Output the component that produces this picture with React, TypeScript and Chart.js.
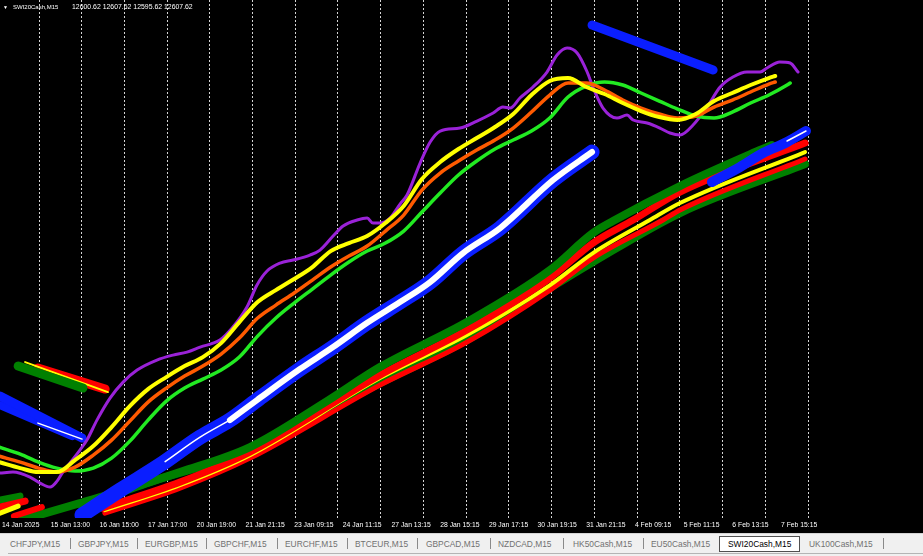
import React, { useEffect, useRef } from "react";
import { Chart, registerables } from "chart.js";

Chart.register(...registerables);

// ---- axes ----
const X_MIN = -0.66;
const X_MAX = 302.66;
const Y_MIN = 11700;
const Y_MAX = 12736;

const tickSlots = [0, 16, 32, 48, 64, 80, 96, 112, 128, 144, 160, 176, 192, 208, 224, 240, 256];
const tickLabels = [
  "14 Jan 2025", "15 Jan 13:00", "16 Jan 15:00", "17 Jan 17:00", "20 Jan 19:00", "21 Jan 21:15",
  "23 Jan 09:15", "24 Jan 11:15", "27 Jan 13:15", "28 Jan 15:15", "29 Jan 17:15", "30 Jan 19:15",
  "31 Jan 21:15", "4 Feb 09:15", "5 Feb 11:15", "6 Feb 13:15", "7 Feb 15:15",
];
const gridSlots = [12.2, 26.2, 40.2, 54.3, 68.3, 82.4, 96.4, 110.4, 124.5, 138.5, 152.6, 166.6, 180.6, 194.7, 208.7, 222.8, 236.8, 250.8, 264.9];

// ---- moving-average ribbon ----
const ribbonSlots = [-1, 6, 12, 18, 24, 30, 36, 42, 48, 54, 60, 66, 72, 78, 84, 90, 96, 102, 108, 114, 120, 126, 132, 138, 144, 150, 156, 162, 168, 174, 180, 186, 192, 198, 204, 210, 216, 222, 228, 234, 240, 246, 252];
const yellowMA = [11812, 11800, 11792, 11792, 11816, 11844, 11882, 11924, 11958, 11982, 12004, 12022, 12050, 12092, 12132, 12156, 12178, 12202, 12234, 12250, 12264, 12290, 12324, 12378, 12412, 12438, 12460, 12482, 12508, 12546, 12574, 12580, 12562, 12548, 12530, 12514, 12502, 12496, 12508, 12534, 12550, 12566, 12580];
const yellowTailSlots = [254.1];
const yellowTail = [12584];
const orangeMA = [11824, 11812, 11800, 11792, 11802, 11826, 11856, 11894, 11932, 11960, 11984, 12004, 12028, 12060, 12100, 12126, 12150, 12176, 12202, 12224, 12244, 12274, 12306, 12356, 12390, 12414, 12436, 12456, 12480, 12512, 12546, 12570, 12570, 12556, 12536, 12520, 12508, 12500, 12504, 12522, 12536, 12552, 12568];
const orangeTailSlots = [254.1];
const orangeTail = [12572];
const greenMA = [11842, 11828, 11812, 11800, 11794, 11800, 11820, 11854, 11896, 11934, 11960, 11978, 11996, 12022, 12064, 12100, 12130, 12158, 12186, 12212, 12234, 12250, 12274, 12312, 12350, 12386, 12414, 12438, 12456, 12474, 12500, 12542, 12564, 12572, 12566, 12550, 12534, 12518, 12504, 12500, 12512, 12530, 12546];
const greenTailSlots = [258, 259];
const greenTail = [12566, 12570];

const purpleSlots = [-0.66, 3.6, 9.2, 12.5, 15.8, 18.1, 20.0, 22.3, 25.6, 27.9, 31.2, 35.5, 39.8, 44.4, 50.9, 56.2, 60.8, 65.1, 71.6, 75.9, 80.5, 83.8, 87.1, 91.4, 95.6, 101.2, 104.5, 108.8, 112.1, 116.7, 120.0, 121.9, 124.2, 127.5, 130.8, 133.1, 137.4, 140.7, 144.0, 150.5, 156.1, 161.4, 164.6, 167.0, 170.2, 174.5, 179.1, 182.4, 185.7, 189.0, 192.3, 194.3, 197.5, 202.1, 205.4, 207.4, 212.0, 216.2, 219.5, 222.8, 227.1, 231.7, 236.0, 240.2, 244.8, 249.1, 251.4, 255.6, 259.0, 261.6];
const purpleMA = [11790, 11792, 11782, 11770, 11762, 11774, 11792, 11810, 11836, 11856, 11896, 11940, 11972, 11996, 12016, 12026, 12032, 12042, 12056, 12082, 12122, 12166, 12194, 12210, 12216, 12226, 12236, 12264, 12284, 12296, 12300, 12290, 12290, 12300, 12328, 12346, 12410, 12452, 12474, 12480, 12494, 12510, 12522, 12520, 12540, 12562, 12592, 12626, 12640, 12630, 12592, 12560, 12520, 12500, 12506, 12496, 12490, 12480, 12470, 12466, 12486, 12522, 12562, 12582, 12592, 12592, 12600, 12612, 12610, 12592];

// ---- blue regression lines ----
const bigBlueSlots = [26.3, 38.8, 51.9, 65.1, 74.9, 83.8, 97.9, 108.8, 119.9, 130.8, 140.7, 151.5, 163.7, 181.1, 193.9];
const bigBluePrices = [11706, 11756, 11806, 11862, 11896, 11936, 11998, 12042, 12090, 12132, 12172, 12230, 12280, 12376, 12432];
const whiteThinSlots = [53.6, 65.1, 74.9];
const whiteThinPrices = [11813, 11862, 11896];
const topBlueSlots = [193.9, 233.7];
const topBluePrices = [12686, 12596];
const rightBlueSlots = [233.3, 242.5, 250.1, 258.0, 264.2];
const rightBluePrices = [12372, 12402, 12430, 12452, 12474];
const rightWhiteSlots = [258.0, 264.2];
const rightWhitePrices = [12454, 12474];
const leftBlueASlots = [-0.66, 26.3];
const leftBlueAPrices = [11944, 11860];
const leftBlueBSlots = [-0.66, 23.0];
const leftBlueBPrices = [11926, 11864];
const leftWhiteSlots = [11.8, 26.3];
const leftWhitePrices = [11890, 11858];

// ---- short red / green / yellow segments ----
const tlRedSlots = [11.8, 33.9];
const tlRedPrices = [12000, 11958];
const tlGreenSlots = [5.3, 26.6];
const tlGreenPrices = [12004, 11960];
const tlYellowSlots = [7.6, 34.8];
const tlYellowPrices = [12012, 11952];
const blGreenSlots = [-0.66, 5.9];
const blGreenPrices = [11736, 11744];
const blRedSlots = [-0.66, 7.6];
const blRedPrices = [11722, 11734];
const blYellowSlots = [-0.66, 5.3];
const blYellowPrices = [11710, 11724];
const blRed2Slots = [3.9, 13.1];
const blRed2Prices = [11704, 11722];

// ---- lower bundle ----
const g1Slots = [6.6, 25.6, 42.1, 58.5, 81.5, 106.8, 124.2, 152.8, 180.1, 194.2, 200.8, 222.8, 249.1, 253.0];
const g1Prices = [11696, 11730, 11760, 11792, 11842, 11934, 12002, 12092, 12196, 12270, 12294, 12364, 12436, 12446];
const g2Slots = [26.3, 48.6, 81.5, 124.2, 152.8, 180.1, 194.2, 222.8, 263.9];
const g2Prices = [11724, 11772, 11836, 11970, 12056, 12160, 12212, 12310, 12408];
const r1Slots = [32.9, 58.5, 81.5, 124.2, 152.8, 180.1, 194.2, 207.4, 222.8, 263.9];
const r1Prices = [11720, 11772, 11832, 11986, 12076, 12180, 12250, 12296, 12352, 12450];
const ySlots = [33.8, 58.5, 81.5, 124.2, 152.8, 180.1, 194.2, 212.9, 222.8, 263.9];
const yPrices = [11716, 11766, 11826, 11980, 12066, 12166, 12230, 12296, 12330, 12432];
const r2Slots = [33.8, 58.5, 81.5, 124.2, 152.8, 180.1, 194.2, 217.2, 222.8, 263.9];
const r2Prices = [11710, 11760, 11820, 11966, 12052, 12156, 12220, 12296, 12316, 12418];

// ---- header / tabs ----
const symbolTitle = "SWI20Cash,M15";
const ohlcText = "12600.62 12607.62 12595.62 12607.62";
const tabNames = ["CHFJPY,M15", "GBPJPY,M15", "EURGBP,M15", "GBPCHF,M15", "EURCHF,M15", "BTCEUR,M15", "GBPCAD,M15", "NZDCAD,M15", "HK50Cash,M15", "EU50Cash,M15", "SWI20Cash,M15", "UK100Cash,M15"];
const activeTab = 10;
const tabLefts = [10, 78, 145, 214, 285, 355, 426, 498, 573, 651, 728, 809];
const sepLefts = [70, 137, 206, 277, 347, 417, 490, 563, 643, 883];

const C = {
  purple: "#9a22d8",
  yellow: "#ffff00",
  orange: "#ff5a00",
  lime: "#22ea22",
  dkgreen: "#008000",
  red: "#ff0000",
  blue: "#0a1eff",
  white: "#ffffff",
};

const FONT = "'Liberation Sans', Arial, sans-serif";

const pts = (xs: number[], ys: number[]) => xs.map((x, i) => ({ x, y: ys[i] }));

function ds(label: string, xs: number[], ys: number[], color: string, width: number, order: number, smooth = false) {
  return {
    label,
    data: pts(xs, ys),
    borderColor: color,
    backgroundColor: color,
    borderWidth: width,
    pointRadius: 0,
    pointHoverRadius: 0,
    fill: false,
    order,
    borderCapStyle: "round",
    borderJoinStyle: "round",
    tension: 0,
    cubicInterpolationMode: smooth ? "monotone" : "default",
  } as any;
}

export default function App() {
  const ref = useRef<HTMLCanvasElement>(null);

  useEffect(() => {
    const canvas = ref.current;
    if (!canvas) return;
    const whiteCoreSlots = bigBlueSlots.slice(4);
    const whiteCorePrices = bigBluePrices.slice(4);
    const chart = new Chart(canvas, {
      type: "line",
      data: {
        datasets: [
          ds("G2", g2Slots, g2Prices, C.dkgreen, 8, 30, true),
          ds("R2", r2Slots, r2Prices, C.red, 5, 29, true),
          ds("Y", ySlots, yPrices, C.yellow, 4, 28, true),
          ds("R1", r1Slots, r1Prices, C.red, 7, 27, true),
          ds("G1", g1Slots, g1Prices, C.dkgreen, 8, 26, true),
          ds("blG", blGreenSlots, blGreenPrices, C.dkgreen, 7, 25),
          ds("blR", blRedSlots, blRedPrices, C.red, 7, 24),
          ds("blY", blYellowSlots, blYellowPrices, C.yellow, 5, 23),
          ds("blR2", blRed2Slots, blRed2Prices, C.red, 6, 22),
          ds("tlR", tlRedSlots, tlRedPrices, C.red, 9, 21),
          ds("tlY", tlYellowSlots, tlYellowPrices, C.yellow, 2, 20),
          ds("tlG", tlGreenSlots, tlGreenPrices, C.dkgreen, 9, 19),
          ds("lbB", leftBlueBSlots, leftBlueBPrices, C.blue, 8, 18),
          ds("lbA", leftBlueASlots, leftBlueAPrices, C.blue, 9, 17),
          ds("lbW", leftWhiteSlots, leftWhitePrices, C.white, 1.5, 16),
          ds("purple", purpleSlots, purpleMA, C.purple, 3, 15, true),
          ds("lime", [...ribbonSlots, ...greenTailSlots], [...greenMA, ...greenTail], C.lime, 3.5, 14, true),
          ds("orange", [...ribbonSlots, ...orangeTailSlots], [...orangeMA, ...orangeTail], C.orange, 3.5, 13, true),
          ds("yellow", [...ribbonSlots, ...yellowTailSlots], [...yellowMA, ...yellowTail], C.yellow, 4, 12, true),
          ds("bigBlue", bigBlueSlots, bigBluePrices, C.blue, 15, 11, true),
          ds("whiteThin", whiteThinSlots, whiteThinPrices, C.white, 1.5, 10, true),
          ds("whiteCore", whiteCoreSlots, whiteCorePrices, C.white, 6, 9, true),
          ds("topBlue", topBlueSlots, topBluePrices, C.blue, 9, 8),
          ds("rightBlue", rightBlueSlots, rightBluePrices, C.blue, 10, 7, true),
          ds("rightWhite", rightWhiteSlots, rightWhitePrices, C.white, 1.5, 6),
        ],
      },
      options: {
        responsive: true,
        maintainAspectRatio: false,
        animation: false,
        events: [],
        layout: { padding: 0 },
        plugins: { legend: { display: false }, tooltip: { enabled: false }, title: { display: false } },
        scales: {
          x: {
            type: "linear",
            position: "bottom",
            min: X_MIN,
            max: X_MAX,
            afterBuildTicks: (axis: any) => {
              axis.ticks = gridSlots.map((v) => ({ value: v }));
            },
            ticks: { display: false },
            grid: { display: true, color: "rgba(235,235,235,0.9)", lineWidth: 1, drawTicks: false },
            border: { display: false, dash: [2, 2] },
          },
          xl: {
            type: "linear",
            position: "bottom",
            min: X_MIN,
            max: X_MAX,
            afterBuildTicks: (axis: any) => {
              axis.ticks = tickSlots.map((v) => ({ value: v }));
            },
            ticks: {
              display: true,
              align: "start",
              autoSkip: false,
              maxRotation: 0,
              minRotation: 0,
              padding: 2,
              color: "#ffffff",
              font: { family: FONT, size: 6.8, lineHeight: 1.6 },
              callback: (_v: any, i: number) => tickLabels[i],
            },
            grid: { display: false, drawTicks: false },
            border: { display: false },
          },
          y: {
            type: "linear",
            display: false,
            min: Y_MIN,
            max: Y_MAX,
          },
        },
      } as any,
    });
    return () => chart.destroy();
  }, []);

  return (
    <div style={{ position: "absolute", left: 0, top: 0, width: 923, height: 556, background: "#f0f0f0", overflow: "hidden", fontFamily: FONT }}>
      <div style={{ position: "absolute", left: 0, top: 0, width: 923, height: 533, background: "#000" }}>
        <canvas ref={ref} />
      </div>
      <div style={{ position: "absolute", left: 3, top: 2, color: "#fff", fontSize: 5, lineHeight: "10px" }}>▼</div>
      <div style={{ position: "absolute", left: 13, top: 1, color: "#fff", fontSize: 6, lineHeight: "12px", whiteSpace: "nowrap" }}>{symbolTitle}</div>
      <div style={{ position: "absolute", left: 72, top: 1, color: "#fff", fontSize: 6.9, lineHeight: "12px", whiteSpace: "nowrap" }}>{ohlcText}</div>
      <div style={{ position: "absolute", left: 0, top: 533, width: 923, height: 23, background: "#f0f0f0", borderTop: "1px solid #d4d4d4", boxSizing: "border-box" }} />
      <div style={{ position: "absolute", left: 8, top: 553, width: 915, height: 1, background: "#b4b4b4" }} />
      <div style={{ position: "absolute", left: 719, top: 536, width: 81, height: 16, background: "#fff", border: "1px solid #505050", boxSizing: "border-box" }} />
      {tabNames.map((t, i) => (
        <div key={t} style={{ position: "absolute", left: tabLefts[i], top: 538, fontSize: 8.4, lineHeight: "12px", whiteSpace: "nowrap", color: i === activeTab ? "#000" : "#707070" }}>{t}</div>
      ))}
      {sepLefts.map((l, i) => (
        <div key={"s" + i} style={{ position: "absolute", left: l, top: 538, width: 1, height: 11, background: "#8a8a8a" }} />
      ))}
    </div>
  );
}
